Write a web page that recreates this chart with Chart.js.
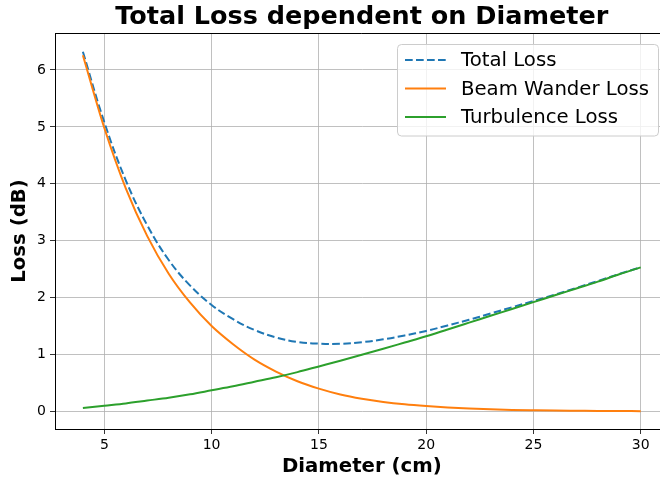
<!DOCTYPE html>
<html>
<head>
<meta charset="utf-8">
<script src="https://cdn.jsdelivr.net/npm/chart.js@4.4.1/dist/chart.umd.min.js"></script>
<style>
  html, body { margin: 0; padding: 0; background: #fff; overflow: hidden; width: 660px; height: 481px; }
  #wrap { position: absolute; left: 0; top: 0; width: 680px; height: 481px; }
</style>
</head>
<body>
<div id="wrap"><canvas id="c" width="680" height="481"></canvas></div>
<script>
// ---- data ----
const diameters = [4,5,6,7,8,9,10,11,12,13,14,15,16,17,18,19,20,21,22,23,24,25,26,27,28,29,30];
const totalLoss = [6.32,5.08,4.06,3.27,2.66,2.21,1.87,1.62,1.43,1.30,1.22,1.19,1.187,1.215,1.266,1.334,1.413,1.51,1.61,1.72,1.83,1.94,2.05,2.17,2.29,2.415,2.534];
const beamWanderLoss = [6.26,4.98,3.92,3.08,2.42,1.91,1.50,1.18,0.91,0.70,0.53,0.40,0.297,0.222,0.166,0.124,0.093,0.068,0.050,0.036,0.026,0.019,0.013,0.010,0.007,0.005,0.004];
const turbulenceLoss = [0.06,0.10,0.14,0.19,0.24,0.30,0.37,0.44,0.52,0.60,0.69,0.79,0.89,0.995,1.10,1.21,1.32,1.44,1.56,1.68,1.80,1.92,2.04,2.16,2.28,2.41,2.53];
const xTicks = [5,10,15,20,25,30];
const yTicks = [0,1,2,3,4,5,6];
const seriesNames = ['Total Loss','Beam Wander Loss','Turbulence Loss'];
const chartTitle = 'Total Loss dependent on Diameter';
const xLabel = 'Diameter (cm)';
const yLabel = 'Loss (dB)';

const toPts = arr => arr.map((v, i) => ({ x: diameters[i], y: v }));

const FONT = '"DejaVu Sans", sans-serif';

const decorPlugin = {
  id: 'decor',
  afterDraw(chart) {
    const ctx = chart.ctx;
    const a = chart.chartArea;
    ctx.save();
    // top spine
    ctx.strokeStyle = '#000';
    ctx.lineWidth = 1;
    ctx.beginPath();
    ctx.moveTo(a.left, a.top + 0.5);
    ctx.lineTo(a.right, a.top + 0.5);
    ctx.moveTo(a.right - 0.5, a.top);
    ctx.lineTo(a.right - 0.5, a.bottom);
    ctx.stroke();

    // title
    ctx.fillStyle = '#000';
    ctx.textAlign = 'center';
    ctx.textBaseline = 'middle';
    ctx.font = 'bold 25.5px ' + FONT;
    ctx.fillText(chartTitle, (a.left + a.right) / 2, 17);

    // axis labels
    ctx.font = 'bold 19.7px ' + FONT;
    ctx.fillText(xLabel, (a.left + a.right) / 2, 467);
    ctx.save();
    ctx.translate(20, (a.top + a.bottom) / 2);
    ctx.rotate(-Math.PI / 2);
    ctx.fillText(yLabel, 0, 0);
    ctx.restore();

    // legend
    const bx = 397.5, by = 44.5, bw = 261, bh = 91.5, r = 4;
    ctx.beginPath();
    ctx.moveTo(bx + r, by);
    ctx.lineTo(bx + bw - r, by);
    ctx.quadraticCurveTo(bx + bw, by, bx + bw, by + r);
    ctx.lineTo(bx + bw, by + bh - r);
    ctx.quadraticCurveTo(bx + bw, by + bh, bx + bw - r, by + bh);
    ctx.lineTo(bx + r, by + bh);
    ctx.quadraticCurveTo(bx, by + bh, bx, by + bh - r);
    ctx.lineTo(bx, by + r);
    ctx.quadraticCurveTo(bx, by, bx + r, by);
    ctx.closePath();
    ctx.fillStyle = 'rgba(255,255,255,0.8)';
    ctx.fill();
    ctx.strokeStyle = '#cccccc';
    ctx.lineWidth = 1;
    ctx.stroke();

    const rows = [60, 88.5, 117];
    chart.data.datasets.forEach((ds, i) => {
      const y = rows[i];
      ctx.strokeStyle = ds.borderColor;
      ctx.lineWidth = ds.borderWidth;
      ctx.setLineDash(ds.borderDash || []);
      ctx.beginPath();
      ctx.moveTo(405, y);
      ctx.lineTo(446, y);
      ctx.stroke();
      ctx.setLineDash([]);
      ctx.fillStyle = '#000';
      ctx.textAlign = 'left';
      ctx.textBaseline = 'middle';
      ctx.font = '19.7px ' + FONT;
      ctx.fillText(ds.label, 461, y + 1);
    });
    ctx.restore();
  }
};

new Chart(document.getElementById('c'), {
  type: 'line',
  data: {
    datasets: [
      { label: seriesNames[0], data: toPts(totalLoss), borderColor: '#1f77b4', borderWidth: 2, borderDash: [7.7, 3.3], pointRadius: 0, fill: false, tension: 0.4, order: 2 },
      { label: seriesNames[1], data: toPts(beamWanderLoss), borderColor: '#ff7f0e', borderWidth: 2, pointRadius: 0, fill: false, cubicInterpolationMode: 'monotone', order: 1 },
      { label: seriesNames[2], data: toPts(turbulenceLoss), borderColor: '#2ca02c', borderWidth: 2, pointRadius: 0, fill: false, cubicInterpolationMode: 'monotone', order: 0 }
    ]
  },
  options: {
    responsive: false,
    animation: false,
    devicePixelRatio: 1,
    layout: { padding: { left: 0, right: 11.4, top: 33, bottom: 0 } },
    plugins: { legend: { display: false }, title: { display: false }, tooltip: { enabled: false } },
    scales: {
      x: {
        type: 'linear',
        min: 2.7,
        max: 31.3,
        afterBuildTicks: s => { s.ticks = xTicks.map(v => ({ value: v })); },
        afterFit: s => { s.height = 52; },
        grid: { color: '#b0b0b0', lineWidth: 0.8, tickLength: 5, tickColor: '#000', drawOnChartArea: true },
        border: { color: '#000', width: 1 },
        ticks: { font: { family: FONT, size: 14 }, color: '#000', padding: 3, maxRotation: 0, autoSkip: false }
      },
      y: {
        type: 'linear',
        min: -0.31,
        max: 6.65,
        afterBuildTicks: s => { s.ticks = yTicks.map(v => ({ value: v })); },
        afterFit: s => { s.width = 55; },
        grid: { color: '#b0b0b0', lineWidth: 0.8, tickLength: 5, tickColor: '#000' },
        border: { color: '#000', width: 1 },
        ticks: { font: { family: FONT, size: 14 }, color: '#000', padding: 4, autoSkip: false }
      }
    }
  },
  plugins: [decorPlugin]
});
</script>
</body>
</html>
